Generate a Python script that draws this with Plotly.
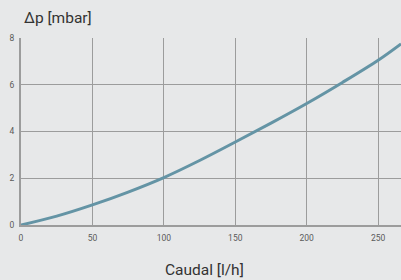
import plotly.graph_objects as go

flow = [0, 25, 50, 75, 100, 125, 150, 175, 200, 225, 250, 266]
dp = [0, 0.38, 0.86, 1.41, 2.03, 2.76, 3.55, 4.36, 5.2, 6.1, 7.05, 7.75]
x_ticks = [0, 50, 100, 150, 200, 250]
y_ticks = [0, 2, 4, 6, 8]

W, H = 401, 280
l, r, t, b = 21, 0, 38, 55
pw, ph = W - l - r, H - t - b

fig = go.Figure()
fig.add_trace(go.Scatter(x=flow, y=dp, mode="lines",
                         line=dict(color="#6494a5", width=3, shape="spline"),
                         hoverinfo="skip"))

grid = "#9c9c9c"
fig.update_layout(
    width=W, height=H,
    margin=dict(l=l, r=r, t=t, b=b),
    paper_bgcolor="#e7e8e9", plot_bgcolor="#e7e8e9",
    showlegend=False,
    font=dict(family="Roboto, Arial, sans-serif", color="#555555"),
    xaxis=dict(range=[0, 266], tickvals=x_ticks, showgrid=True, gridcolor=grid,
               gridwidth=1, showline=True, linecolor=grid, linewidth=2,
               zeroline=False, ticks="", tickfont=dict(size=8.5, color="#5a5a5a"),
               ticklabelstandoff=4),
    yaxis=dict(range=[0, 8], tickvals=y_ticks, showgrid=True, gridcolor=grid,
               gridwidth=1, showline=True, linecolor=grid, linewidth=2,
               zeroline=False, ticks="", tickfont=dict(size=8.5, color="#5a5a5a"),
               ticklabelstandoff=3),
    annotations=[
        dict(text="Δp [mbar]", x=(22 - l) / pw, y=(H - b - 18) / ph,
             xref="paper", yref="paper",
             showarrow=False, font=dict(size=15.5, color="#333333"),
             xanchor="left", yanchor="middle"),
        dict(text="Caudal [l/h]", x=(204 - l) / pw, y=(H - b - 270) / ph,
             xref="paper", yref="paper", showarrow=False,
             font=dict(size=15.5, color="#333333"), xanchor="center", yanchor="middle"),
    ],
)
fig.write_html("out.html", config={"displayModeBar": False},
               post_script="document.body.style.margin='0';document.body.style.overflow='hidden';")
